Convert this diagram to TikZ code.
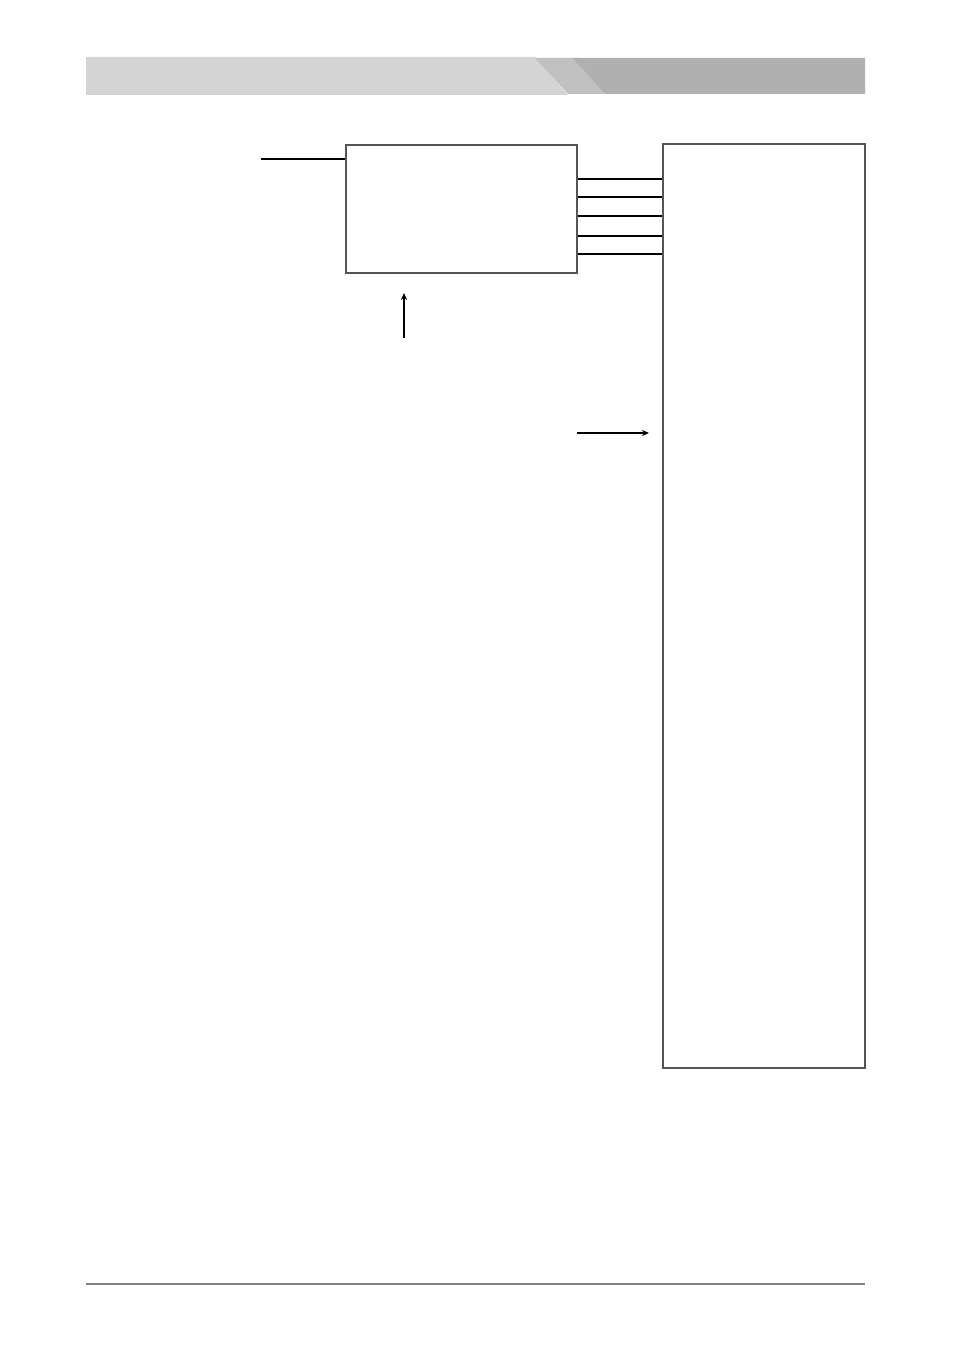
\documentclass[tikz,border=0pt]{standalone}
\usepackage{tikz}
\usetikzlibrary{arrows, positioning, arrows.meta}
\definecolor{bandlight}{HTML}{D4D4D4}
\definecolor{bandmid}{HTML}{C0C0C0}
\definecolor{banddark}{HTML}{B0B0B0}
\definecolor{frame}{HTML}{555555}
\definecolor{rulegray}{HTML}{808080}
\begin{document}
\begin{tikzpicture}[x=0.2mm,y=-0.2mm]
		
		\tikzset{%
			block/.style    = {draw=frame, line width=0.85pt, rectangle, inner sep=0pt},
			wire/.style     = {line width=1.1pt, black},
			pointer/.style  = {line width=1pt, black, -{Stealth[length=4pt,width=3.5pt]}},
			point/.style    = {coordinate}
		}
		\useasboundingbox (0,0) rectangle (954,1350);
		
		% Kopfzeile
		\fill[bandlight] (86,57) -- (535,57) -- (568,95) -- (86,95) -- cycle;
		\fill[bandmid] (535,58) -- (572,58) -- (605,94) -- (568,94) -- cycle;
		\fill[banddark] (572,58) -- (865,58) -- (865,94) -- (605,94) -- cycle;
		
		\node[block, minimum width = 46.2mm, minimum height = 25.6mm] (ctrl) at (461.5,209) {};		% Steuerblock
		\node[block, minimum width = 40.4mm, minimum height = 184.8mm] (panel) at (764,606) {};		% Anschlussleiste
		\node[point] (feed) at (261,159) {};	% freies Leitungsende links
		\node[point] (upfoot) at (404,338) {};
		\node[point] (uptip) at (404,293) {};
		\node[point] (sigstart) at (577,433) {};
		\node[point] (sigend) at (649,433) {};
		\node[point] (rulel) at (86,1284) {};
		\node[point] (ruler) at (865,1284) {};
		
		% Leitungen
		\draw[wire] (feed) to (feed -| ctrl.west);
		\foreach \yy in {179,197,216,236,254}
			\draw[wire] (ctrl.east |- 0,\yy) to (panel.west |- 0,\yy);
		\draw[pointer] (upfoot) to (uptip);
		\draw[pointer] (sigstart) to (sigend);
		
		% Fusslinie
		\draw[rulegray, line width=1.1pt] (rulel) to (ruler);
		\end{tikzpicture}
\end{document}
